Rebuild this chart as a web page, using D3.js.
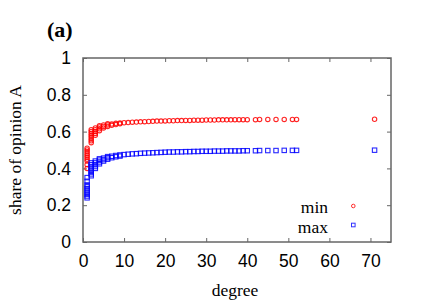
<!DOCTYPE html>
<html>
<head>
<meta charset="utf-8">
<script src="https://cdn.jsdelivr.net/npm/d3@7"></script>
<style>
	body { margin: 0; background: white; }
	svg { display: block; }
</style>
</head>
<body>
<script>
// node degree (repeated where several runs share a degree)
var degree = [
	1, 1, 1, 1, 1, 1, 1, 1, 1, 1,
	2, 2, 2, 2, 2, 2, 2, 2,
	3, 3, 3, 3, 3,
	4, 4, 4, 4,
	5, 5, 5,
	6, 6, 6,
	7, 7,
	8, 8,
	9, 9,
	10, 11, 12, 13, 14, 15, 16, 17, 18, 19,
	20, 21, 22, 23, 24, 25, 26, 27, 28, 29,
	30, 31, 32, 33, 34, 35, 36, 37, 38, 39, 40,
	42, 43, 45, 47, 49, 51, 52, 71
]

var minShare = [
	0.40, 0.42, 0.44, 0.45, 0.46, 0.47, 0.48, 0.49, 0.50, 0.51,
	0.54, 0.55, 0.56, 0.57, 0.58, 0.59, 0.60, 0.61,
	0.58, 0.59, 0.60, 0.61, 0.62,
	0.605, 0.615, 0.625, 0.632,
	0.62, 0.628, 0.636,
	0.628, 0.636, 0.642,
	0.634, 0.641,
	0.638, 0.645,
	0.642, 0.647,
	0.648, 0.649, 0.651, 0.652, 0.653, 0.654, 0.655, 0.656, 0.657, 0.657,
	0.658, 0.659, 0.659, 0.66, 0.66, 0.661, 0.661, 0.662, 0.662, 0.662,
	0.663, 0.663, 0.663, 0.664, 0.664, 0.664, 0.664, 0.665, 0.665, 0.665, 0.665,
	0.665, 0.666, 0.666, 0.666, 0.666, 0.666, 0.666, 0.667
]

var maxShare = [
	0.24, 0.25, 0.26, 0.27, 0.28, 0.29, 0.30, 0.31, 0.33, 0.35,
	0.36, 0.37, 0.38, 0.39, 0.40, 0.41, 0.42, 0.43,
	0.40, 0.41, 0.42, 0.43, 0.44,
	0.425, 0.435, 0.445, 0.452,
	0.44, 0.448, 0.456,
	0.45, 0.458, 0.464,
	0.458, 0.466,
	0.463, 0.47,
	0.467, 0.473,
	0.475, 0.477, 0.479, 0.48, 0.482, 0.483, 0.484, 0.485, 0.486, 0.487,
	0.488, 0.489, 0.489, 0.49, 0.49, 0.491, 0.491, 0.492, 0.492, 0.493,
	0.493, 0.493, 0.494, 0.494, 0.494, 0.495, 0.495, 0.495, 0.495, 0.496, 0.496,
	0.496, 0.497, 0.497, 0.497, 0.498, 0.498, 0.498, 0.499
]

var xTicks = [0, 10, 20, 30, 40, 50, 60, 70]
var yTicks = [0, 0.2, 0.4, 0.6, 0.8, 1]
var seriesNames = ['min', 'max']

var W = 436, H = 305
var margin = {top: 58, right: 45, bottom: 63, left: 83},
	width = W - margin.left - margin.right,
	height = H - margin.top - margin.bottom

var svg = d3.select('body').append('svg')
	.attr('width', W)
	.attr('height', H)

var g = svg.append('g')
	.attr('transform', 'translate(' + margin.left + ',' + margin.top + ')')

var x = d3.scaleLinear().domain([0, 75]).range([0, width])
var y = d3.scaleLinear().domain([0, 1]).range([height, 0])

var sans = 'Liberation Sans, Arial, sans-serif'
var serif = 'Liberation Serif, Times New Roman, serif'
var axisColor = '#666'

function styleAxis(sel, labels) {
	sel.select('.domain').remove()
	sel.selectAll('.tick line').attr('stroke', axisColor).attr('stroke-width', 1)
	if (labels) {
		sel.selectAll('.tick text')
			.attr('fill', '#000')
			.style('font-family', sans)
			.style('font-size', '17.5px')
	} else {
		sel.selectAll('.tick text').remove()
	}
}

// axes, ticks pointing inward on all four sides
g.append('g')
	.attr('transform', 'translate(0,' + height + ')')
	.call(d3.axisBottom(x).tickValues(xTicks).tickSize(-4).tickPadding(13).tickFormat(d3.format('d')))
	.call(s => styleAxis(s, true))

g.append('g')
	.call(d3.axisTop(x).tickValues(xTicks).tickSize(-4))
	.call(s => styleAxis(s, false))

g.append('g')
	.call(d3.axisLeft(y).tickValues(yTicks).tickSize(-4).tickPadding(12).tickFormat(d => d === 0 || d === 1 ? d : d.toFixed(1)))
	.call(s => styleAxis(s, true))

g.append('g')
	.attr('transform', 'translate(' + width + ',0)')
	.call(d3.axisRight(y).tickValues(yTicks).tickSize(-4))
	.call(s => styleAxis(s, false))

g.append('rect')
	.attr('width', width)
	.attr('height', height)
	.attr('fill', 'none')
	.attr('stroke', axisColor)
	.attr('stroke-width', 1.5)

// data
var pts = degree.map((d, i) => ({k: d, lo: minShare[i], hi: maxShare[i]}))

g.selectAll('.minpt')
	.data(pts)
	.enter()
	.append('circle')
		.attr('class', 'minpt')
		.attr('cx', d => x(d.k))
		.attr('cy', d => y(d.lo))
		.attr('r', 2.2)
		.attr('fill', 'none')
		.attr('stroke', '#ff0000')
		.attr('stroke-width', 1.1)
		.attr('opacity', 0.85)

var sq = 4.4
g.selectAll('.maxpt')
	.data(pts)
	.enter()
	.append('rect')
		.attr('class', 'maxpt')
		.attr('x', d => x(d.k) - sq / 2)
		.attr('y', d => y(d.hi) - sq / 2)
		.attr('width', sq)
		.attr('height', sq)
		.attr('fill', 'none')
		.attr('stroke', '#0000ff')
		.attr('stroke-width', 1.1)
		.attr('opacity', 0.85)

// legend
var legend = svg.selectAll('.legend')
	.data(seriesNames)
	.enter()
	.append('g')
		.attr('transform', (d, i) => 'translate(0,' + (213 + i * 19.5) + ')')

legend.append('text')
	.attr('x', 328)
	.attr('text-anchor', 'end')
	.style('font-family', serif)
	.style('font-size', '17.5px')
	.text(d => d)

legend.each(function (d) {
	var s = d3.select(this)
	if (d === 'min') {
		s.append('circle')
			.attr('cx', 353.3).attr('cy', -7).attr('r', 1.8)
			.attr('fill', 'none').attr('stroke', '#ff0000').attr('opacity', 0.8)
	} else {
		s.append('rect')
			.attr('x', 353.3 - 1.8).attr('y', -7.5 - 1.8)
			.attr('width', 3.6).attr('height', 3.6)
			.attr('fill', 'none').attr('stroke', '#0000ff').attr('opacity', 0.8)
	}
})

// axis titles
svg.append('text')
	.attr('x', margin.left + x(37))
	.attr('y', 296)
	.attr('text-anchor', 'middle')
	.style('font-family', serif)
	.style('font-size', '17.5px')
	.text('degree')

svg.append('text')
	.attr('transform', 'translate(21,150) rotate(-90)')
	.attr('text-anchor', 'middle')
	.style('font-family', serif)
	.style('font-size', '17.5px')
	.text('share of opinion A')

svg.append('text')
	.attr('x', 47)
	.attr('y', 37)
	.style('font-family', serif)
	.style('font-size', '22px')
	.style('font-weight', 'bold')
	.text('(a)')
</script>
</body>
</html>
